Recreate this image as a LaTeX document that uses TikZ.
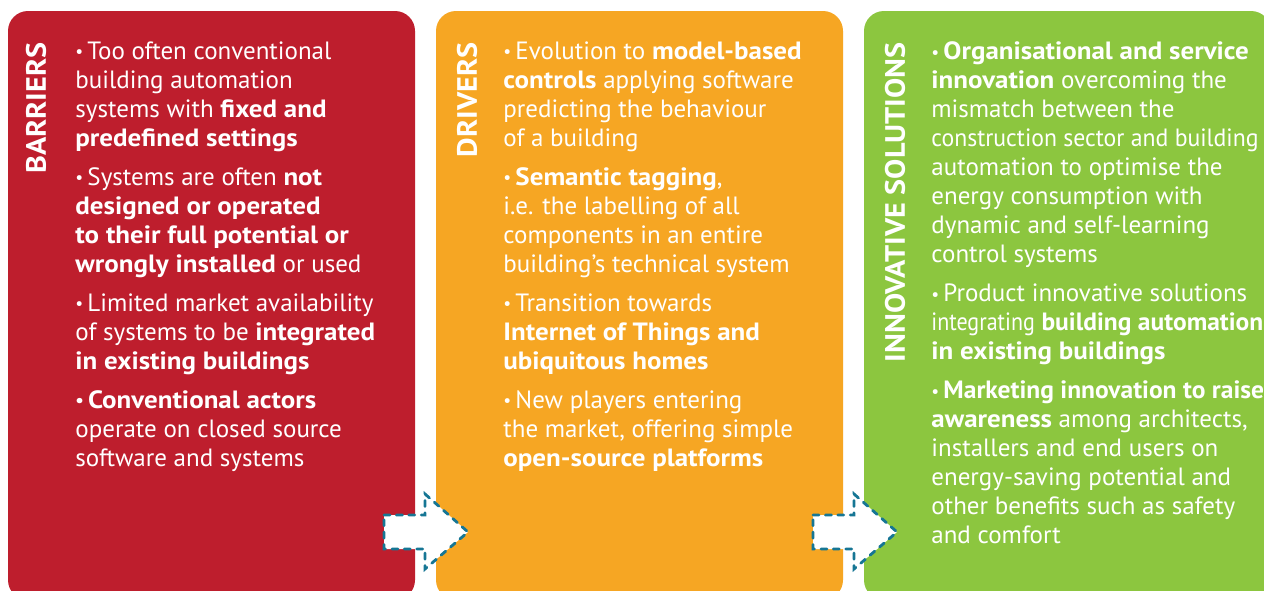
\documentclass[tikz,border=0pt]{standalone}
\usepackage{fontspec}
\setmainfont{PT Sans}[BoldFeatures={FakeStretch=1.08}]
\newfontfamily\condensed[FakeStretch=0.95]{PT Sans}
\newfontfamily\narrow[FakeStretch=0.88]{PT Sans}
\newfontfamily\condbold[FakeStretch=1.02]{PT Sans Bold}
\definecolor{barrierred}{RGB}{190,30,45}
\definecolor{driverorange}{RGB}{246,166,35}
\definecolor{solutiongreen}{RGB}{140,198,63}
\definecolor{arrowteal}{RGB}{22,118,148}
\newcommand{\blt}{\raisebox{0.1ex}{\scalebox{0.7}{•}}\,}

\begin{document}
\begin{tikzpicture}[x=0.5pt,y=-0.5pt,
    panel/.style={rounded corners=10pt},
    heading/.style={rotate=90,anchor=east,inner sep=0pt,text=white,
      font=\fontsize{14}{16}\selectfont\bfseries},
    bullets/.style={anchor=north west,inner sep=0pt,align=left,text=white,
      font=\fontsize{12.5}{14.5}\selectfont},
    flowarrow/.style={draw=arrowteal,fill=white,line width=1.4pt,
      line cap=round,dash pattern=on 3pt off 3.2pt}]
      \useasboundingbox (0,0) rectangle (1264,590);
      \clip (0,0) rectangle (1264,590);
      \fill[white] (0,0) rectangle (1264,590);

      %% the three panels
      \fill[panel, barrierred]    (8,11)   rectangle (415,600);
      \fill[panel, driverorange]  (436,11) rectangle (843,600);
      \fill[panel, solutiongreen] (864,11) rectangle (1271,600);

      \node[heading] (barriers)  at (36,42)  {BARRIERS};
      \node[heading] (drivers)   at (467,42) {DRIVERS};
      \node[heading] (solutions) at (895,42) {INNOVATIVE SOLUTIONS};

      %% Barriers
      \node[bullets] (barriertext) at (75,41) {%
        \blt Too often conventional\\
        building automation\\
        systems with \textbf{fixed and}\\
        \textbf{predefined settings}\\[5pt]
        \blt Systems are often \textbf{not}\\
        \textbf{designed or operated}\\
        \textbf{to their full potential or}\\
        \textbf{wrongly installed} or used\\[5pt]
        \blt Limited market availability\\
        of systems to be \textbf{integrated}\\
        \textbf{in existing buildings}\\[5pt]
        \textbf{\blt Conventional actors}\\
        operate on closed source\\
        software and systems};

      %% Drivers
      \node[bullets] (drivertext) at (503,41) {%
        \blt Evolution to \textbf{model-based}\\
        \textbf{controls} applying software\\
        predicting the behaviour\\
        of a building\\[5pt]
        \blt \textbf{Semantic tagging},\\
        i.e. the labelling of all\\
        components in an entire\\
        building’s technical system\\[5pt]
        \blt Transition towards\\
        \textbf{Internet of Things and}\\
        \textbf{ubiquitous homes}\\[5pt]
        \blt New players entering\\
        the market, offering simple\\
        \textbf{open-source platforms}};

      %% Innovative solutions
      \node[bullets] (solutiontext) at (931,41) {%
        \blt \textbf{Organisational and service}\\
        \textbf{innovation} overcoming the\\
        mismatch between the\\
        {\condensed construction sector and building}\\
        automation to optimise the\\
        energy consumption with\\
        dynamic and self-learning\\
        control systems\\[5pt]
        \blt Product innovative solutions\\
        {\narrow integrating} {\condbold building automation}\\
        \textbf{in existing buildings}\\[5pt]
        \blt {\condbold Marketing innovation to raise}\\
        \textbf{awareness} among architects,\\
        installers and end users on\\
        energy-saving potential and\\
        other benefits such as safety\\
        and comfort};

      %% arrows between the panels
      \draw[flowarrow] (384,515) -- (425,515) -- (425,494) -- (468,532)
        -- (425,569) -- (425,549) -- (384,549) -- cycle;
      \draw[flowarrow] (813,515) -- (854,515) -- (854,494) -- (897,532)
        -- (854,569) -- (854,549) -- (813,549) -- cycle;
\end{tikzpicture}
\end{document}
